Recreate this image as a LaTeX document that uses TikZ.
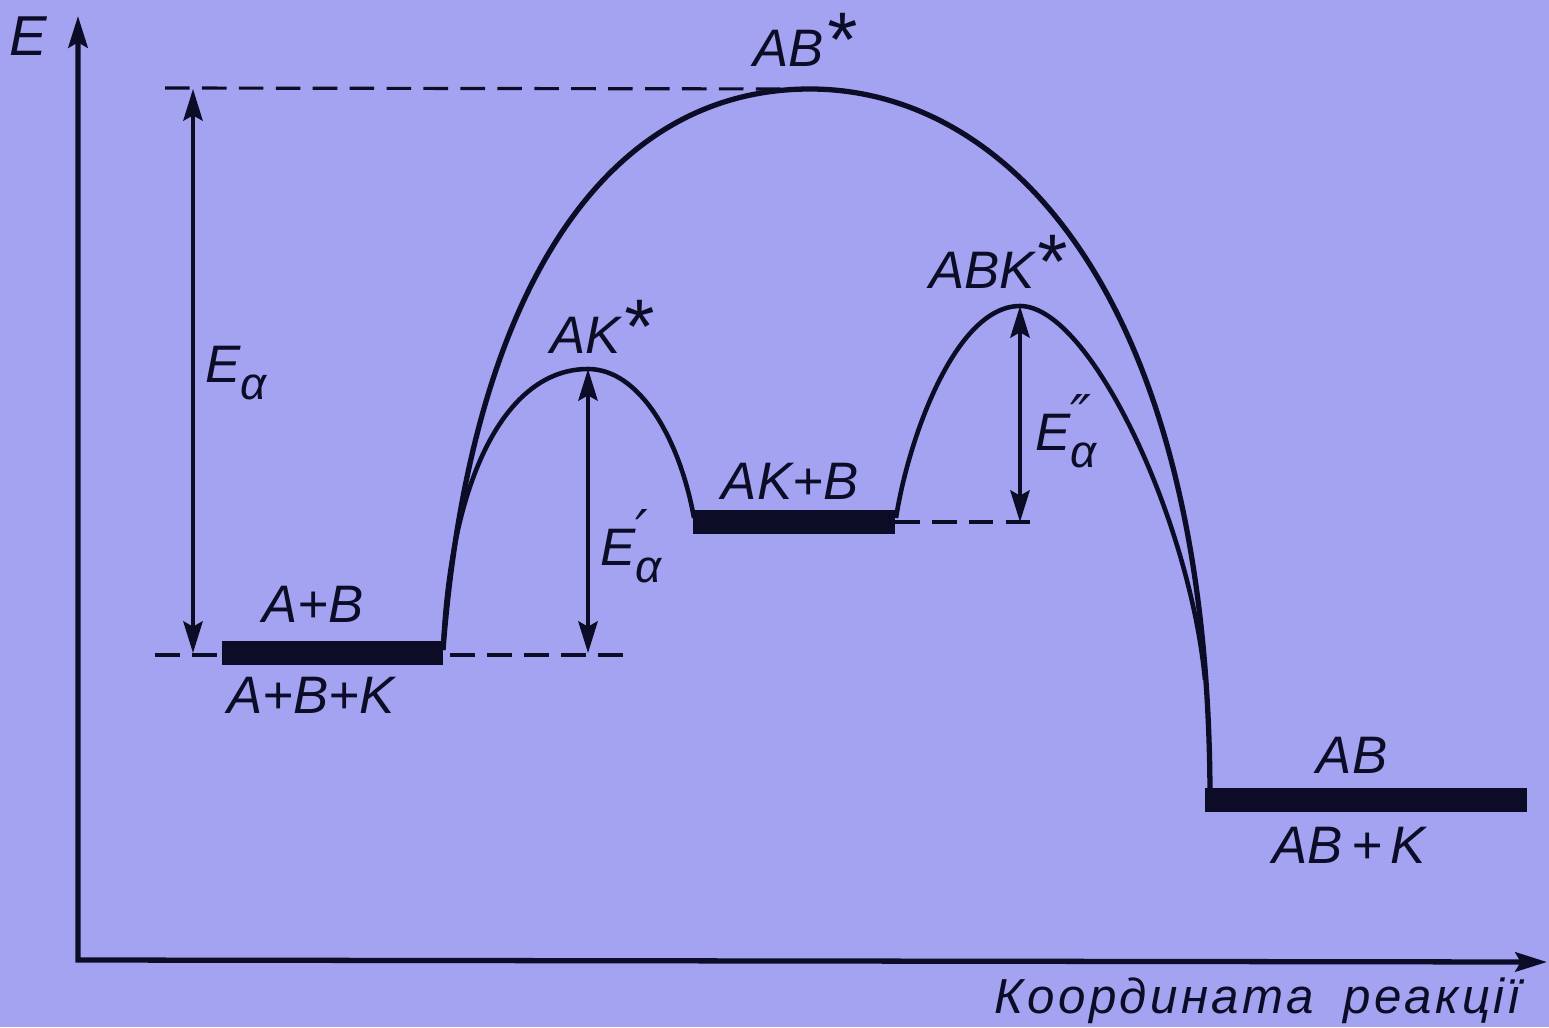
\documentclass[tikz,border=0pt]{standalone}
\usepackage{fontspec}
\setmainfont{Liberation Sans}
\newfontfamily\symfont{DejaVu Sans}
\usepackage{tikz}
\usetikzlibrary{positioning,arrows.meta}
\definecolor{bgcol}{RGB}{163,163,242}
\definecolor{inkcol}{RGB}{12,12,38}
\newcommand{\st}{{\fontsize{22}{22}\selectfont *}}
\newcommand{\Eact}[1]{E\rlap{\raisebox{4pt}{\symfont\fontsize{16}{16}\selectfont #1}}\raisebox{-5pt}{\fontsize{13}{13}\selectfont α}}

\begin{document}
\begin{tikzpicture}[x=0.01cm, y=-0.01cm,
  lvl/.style={line width=7pt, inkcol},
  crv/.style={line width=#1, inkcol, line join=round},
  dsh/.style={line width=0.9pt, inkcol, dash pattern=on 7pt off 3.5pt},
  ar/.style={{Stealth[length=9pt,width=5.5pt,inset=1.5pt]}-{Stealth[length=9pt,width=5.5pt,inset=1.5pt]}, line width=1.1pt, inkcol},
  ax/.style={{Stealth[length=9pt,width=5.5pt,inset=1.5pt]}-{Stealth[length=9pt,width=5.5pt,inset=1.5pt]}, line width=1.5pt, inkcol},
  lbl/.style={font=\fontsize{15}{15}\selectfont\itshape, text=inkcol, inner sep=0pt, anchor=base}
]
\fill[bgcol] (0,0) rectangle (1549,1027);
\useasboundingbox (0,0) rectangle (1549,1027);

\coordinate (ytop) at (78,16);
\coordinate (org)  at (78,960);
\coordinate (xend) at (1547,962);

\coordinate (lAB)   at (222,653);
\coordinate (rAB)   at (443,653);
\coordinate (lAK)   at (693,522);
\coordinate (rAK)   at (895,522);
\coordinate (lPr)   at (1205,800);
\coordinate (rPr)   at (1527,800);
\coordinate (tsAB)  at (810,89);
\coordinate (tsAK)  at (588,369);
\coordinate (tsABK) at (1020,306);
\coordinate (mrg)   at (1205,680);
\coordinate (dTop)  at (165,88);
\coordinate (dLow)  at (155,655);
\coordinate (dLowR) at (635,655);
\coordinate (dMid)  at (1032,522);
\coordinate (eaB)   at (193,653);

\draw[ax] (ytop) -- (org) -- (xend);

\draw[dsh] (dTop) -- (tsAB);
\draw[dsh] (dLow) -- (dLowR);
\draw[dsh] (rAK) -- (dMid);

\draw[crv=1.5pt] (443,650) .. controls (470,300) and (600,89) .. (tsAB)
  .. controls (1010,89) and (1210,300) .. (1210,800);
\draw[crv=1.3pt] (443,650) .. controls (450,480) and (505,369) .. (tsAK)
  .. controls (640,369) and (680,440) .. (694,518);
\draw[crv=1.3pt] (896,518) .. controls (908,440) and (955,306) .. (tsABK)
  .. controls (1090,306) and (1190,520) .. (mrg);

\draw[lvl] (lAB) -- (rAB);
\draw[lvl] (lAK) -- (rAK);
\draw[lvl] (lPr) -- (rPr);

\draw[ar] (eaB |- tsAB) -- (eaB);
\draw[ar] (tsAK) -- (tsAK |- eaB);
\draw[ar] (tsABK) -- (tsABK |- rAK);

\node[lbl] (ylab)  at (28,55)    {\fontsize{16}{16}\selectfont E};
\node[lbl] (nAB)   at (804,67)   {AB\st};
\node[lbl] (nAK)   at (601,353)  {AK\st};
\node[lbl] (nABK)  at (997,288)  {ABK\st};
\node[lbl] (nAKB)  at (790,499)  {AK+B};
\node[lbl] (nApB)  at (313,622)  {A+B};
\node[lbl] (nApBK) at (311,713)  {A+B+K};
\node[lbl] (nPr)   at (1352,773) {AB};
\node[lbl] (nPrK)  at (1349,863) {AB\,+\,K};
\node[lbl, anchor=base west] (ea1) at (205,382)  {\Eact{}};
\node[lbl, anchor=base west] (ea2) at (600,565)  {\Eact{′}};
\node[lbl, anchor=base west] (ea3) at (1035,450) {\Eact{″}};
\node[lbl, font=\fontsize{14}{14}\selectfont\itshape\addfontfeature{LetterSpace=7}] (xlab) at (1257,1013) {Координата\hspace{0.6em}реакції};
\end{tikzpicture}
\end{document}
